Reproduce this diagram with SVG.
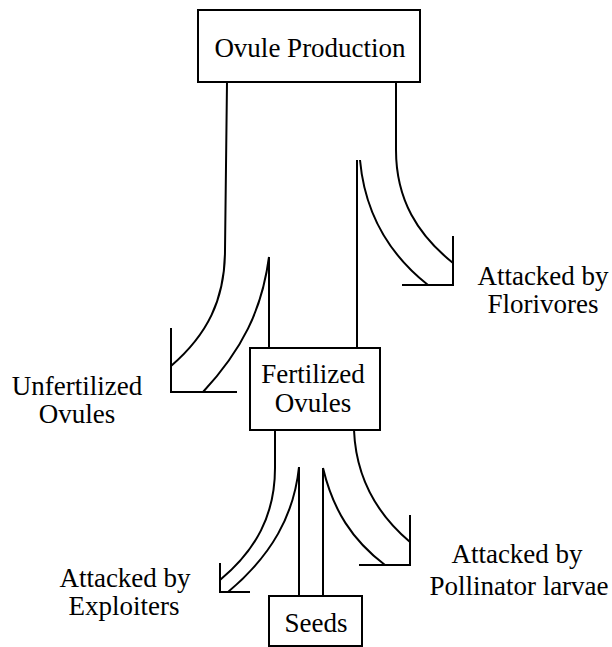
<svg xmlns="http://www.w3.org/2000/svg" width="612" height="647" viewBox="0 0 612 647">
<style>
.box{fill:#fff;stroke:#000;stroke-width:2}
.ln{fill:none;stroke:#000;stroke-width:2}
.t{font-family:'Liberation Serif','Times New Roman',serif;font-size:27px;fill:#000;text-anchor:middle}
</style>
<rect width="612" height="647" fill="#fff"/>
<g id="connectors">
<path class="ln" d="M227,82 L225,250 C225,300 207,335 171,366"/>
<path class="ln" d="M171,328 L171,392 L237,392"/>
<path class="ln" d="M269,257 C262,310 242,350 203,392"/>
<path class="ln" d="M269,257 L269,348"/>
<path class="ln" d="M396,82 L396,150 C396,200 418,235 453,263"/>
<path class="ln" d="M453,236 L453,285 L402,285"/>
<path class="ln" d="M360,160 C365,215 390,255 428,285"/>
<path class="ln" d="M357,160 L357,348"/>
<path class="ln" d="M275,430 L275,468 C275,515 256,550 220,580"/>
<path class="ln" d="M220,563 L220,592 L250,592"/>
<path class="ln" d="M299,467 C294,515 272,555 228,592"/>
<path class="ln" d="M299,467 L299,596"/>
<path class="ln" d="M323,468 L323,596"/>
<path class="ln" d="M323,468 C333,510 352,540 385,565"/>
<path class="ln" d="M359,565 L410,565 L410,515"/>
<path class="ln" d="M354,430 C356,480 378,515 410,542"/>
</g>
<g id="ovule-production">
<rect class="box" x="198" y="10" width="222" height="72"/>
<text class="t" x="310" y="57">Ovule Production</text>
</g>
<g id="fertilized-ovules">
<rect class="box" x="250" y="348" width="130" height="82"/>
<text class="t" x="313" y="383">Fertilized</text>
<text class="t" x="313" y="412">Ovules</text>
</g>
<g id="seeds">
<rect class="box" x="269" y="596" width="93" height="50"/>
<text class="t" x="316" y="632">Seeds</text>
</g>
<g id="unfertilized-ovules">
<text class="t" x="77" y="395">Unfertilized</text>
<text class="t" x="77" y="423">Ovules</text>
</g>
<g id="florivores">
<text class="t" x="543" y="285">Attacked by</text>
<text class="t" x="543" y="313">Florivores</text>
</g>
<g id="pollinator-larvae">
<text class="t" x="517" y="563">Attacked by</text>
<text class="t" x="519" y="595">Pollinator larvae</text>
</g>
<g id="exploiters">
<text class="t" x="125" y="587">Attacked by</text>
<text class="t" x="124" y="615">Exploiters</text>
</g>
</svg>
